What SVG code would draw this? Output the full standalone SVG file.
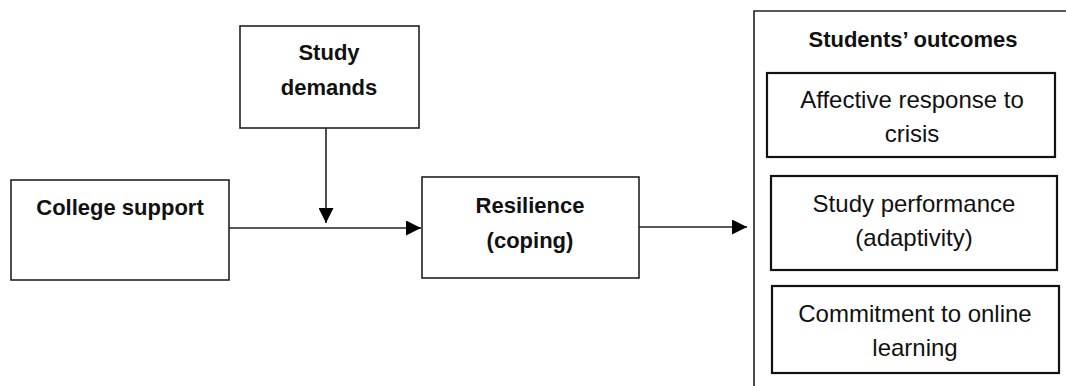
<svg xmlns="http://www.w3.org/2000/svg" width="1066" height="386" viewBox="0 0 1066 386">
  <style>
    .box { fill: #ffffff; stroke: #222222; stroke-width: 1.6; }
    .obox { fill: #ffffff; stroke: #111111; stroke-width: 2.2; }
    .b { font-family: "Liberation Sans", Arial, sans-serif; font-weight: bold; font-size: 22px; fill: #111111; text-anchor: middle; }
    .r { font-family: "Liberation Sans", Arial, sans-serif; font-size: 24px; fill: #111111; text-anchor: middle; }
    .edge { fill: none; stroke: #222222; stroke-width: 1.6; }
  </style>
  <defs>
    <marker id="arrow" viewBox="0 0 15 15" refX="15" refY="7.5" markerWidth="15" markerHeight="15" markerUnits="userSpaceOnUse" orient="auto">
      <path d="M0,0 L15,7.5 L0,15 Z" fill="#000000"/>
    </marker>
  </defs>
  <rect width="1066" height="386" fill="#ffffff"/>

  <g id="college-support">
    <rect class="box" x="11" y="180" width="218" height="100"/>
    <text class="b" x="120" y="215">College support</text>
  </g>

  <g id="study-demands">
    <rect class="box" x="240" y="26" width="179" height="102"/>
    <text class="b" x="329" y="60">Study</text>
    <text class="b" x="329" y="95">demands</text>
  </g>

  <g id="resilience">
    <rect class="box" x="422" y="177" width="217" height="101"/>
    <text class="b" x="530" y="213">Resilience</text>
    <text class="b" x="530" y="248">(coping)</text>
  </g>

  <g id="students-outcomes">
    <path class="edge" d="M754,386 L754,11 L1066,11"/>
    <text class="b" x="913" y="47">Students’ outcomes</text>
  </g>

  <g id="affective-response">
    <rect class="obox" x="767" y="73" width="288" height="84"/>
    <text class="r" x="912" y="108">Affective response to</text>
    <text class="r" x="912" y="142">crisis</text>
  </g>

  <g id="study-performance">
    <rect class="obox" x="771" y="176" width="286" height="94"/>
    <text class="r" x="914" y="212">Study performance</text>
    <text class="r" x="914" y="246">(adaptivity)</text>
  </g>

  <g id="commitment">
    <rect class="obox" x="772" y="286" width="287" height="87"/>
    <text class="r" x="915" y="322">Commitment to online</text>
    <text class="r" x="915" y="356">learning</text>
  </g>

  <g id="connectors">
    <line class="edge" x1="326" y1="128" x2="326" y2="223" marker-end="url(#arrow)"/>
    <line class="edge" x1="229" y1="228" x2="421" y2="228" marker-end="url(#arrow)"/>
    <line class="edge" x1="639" y1="227" x2="747" y2="227" marker-end="url(#arrow)"/>
  </g>
</svg>
